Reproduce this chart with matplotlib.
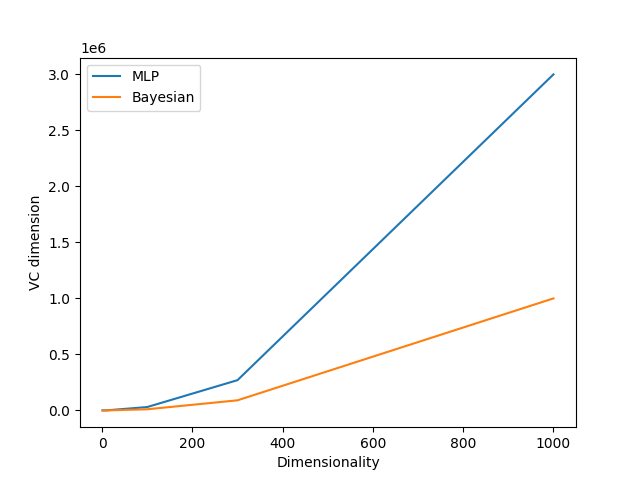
import matplotlib
matplotlib.use("Agg")
import matplotlib.pyplot as plt

dims = [1, 10, 100, 300, 1000]
mlp = [3, 300, 30000, 270000, 3000000]
bayesian = [1, 100, 10000, 90000, 1000000]

fig, ax = plt.subplots(figsize=(6.4, 4.8), dpi=100)
ax.plot(dims, mlp, label="MLP")
ax.plot(dims, bayesian, label="Bayesian")
ax.set_xlabel("Dimensionality")
ax.set_ylabel("VC dimension")
ax.legend()
fig.savefig("out.png")
